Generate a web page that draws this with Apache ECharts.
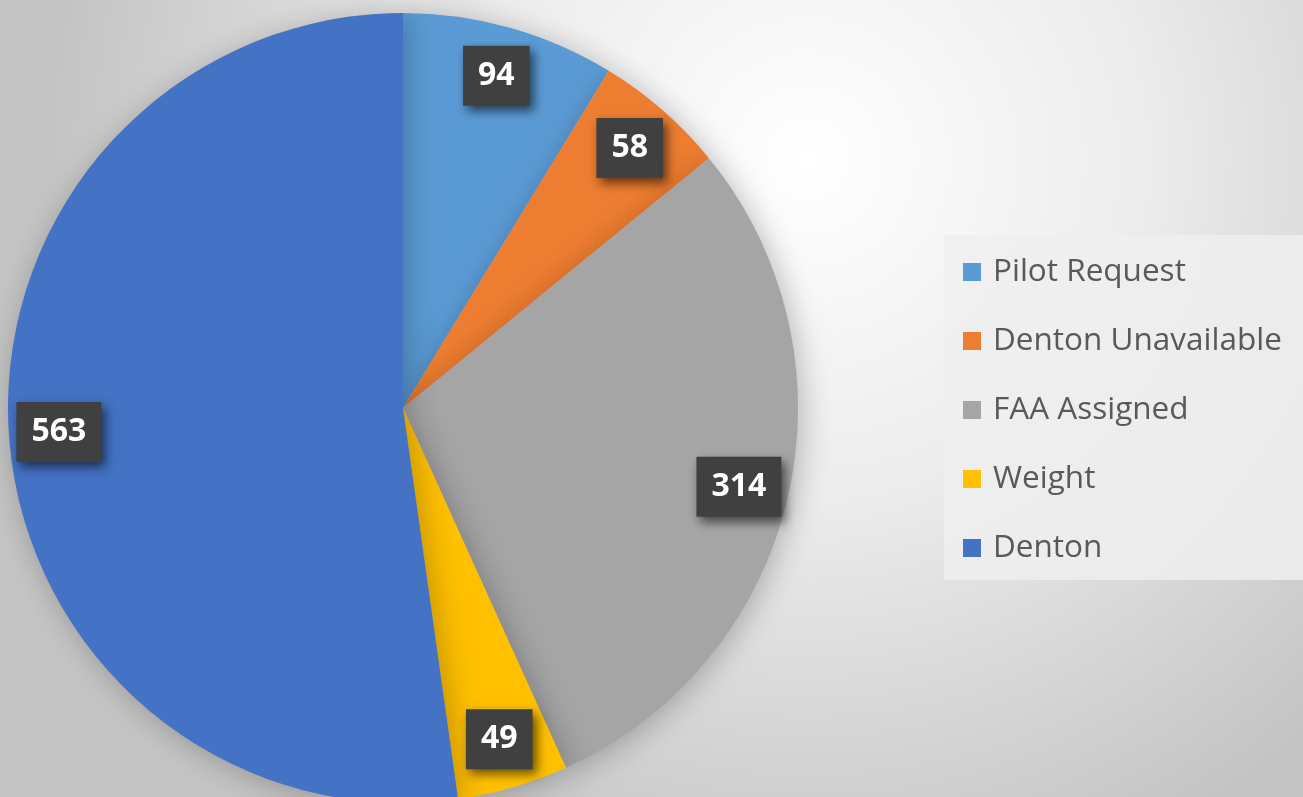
<!DOCTYPE html>
<html><head><meta charset="utf-8">
<script src="https://cdn.jsdelivr.net/npm/echarts@6/dist/echarts.min.js"></script>
<style>html,body{margin:0;padding:0;}#c{width:1303px;height:797px;}</style>
</head><body><div id="c"></div>
<script>
const categories = ['Pilot Request', 'Denton Unavailable', 'FAA Assigned', 'Weight', 'Denton'];
const values = [94, 58, 314, 49, 563];
const colors = ['#5B9BD5', '#ED7D31', '#A5A5A5', '#FFC000', '#4472C4'];

const data = categories.map((n, i) => ({ name: n, value: values[i], itemStyle: { color: colors[i] } }));
const chart = echarts.init(document.getElementById('c'));
chart.setOption({
  backgroundColor: {
    type: 'radial', x: 0.62, y: 0.2, r: 0.95,
    colorStops: [{ offset: 0, color: '#ffffff' }, { offset: 0.45, color: '#ececec' }, { offset: 1, color: '#c4c4c4' }]
  },
  animation: false,
  legend: {
    orient: 'vertical', left: 944, top: 235,
    padding: [21, 30, 16, 19],
    backgroundColor: 'rgba(238,238,238,0.85)',
    icon: 'rect', itemWidth: 18, itemHeight: 18, itemGap: 37,
    textStyle: { fontFamily: 'Open Sans', fontSize: 31.5, lineHeight: 32, color: '#595959', padding: [0, 0, 0, 7] },
    data: categories
  },
  series: [{
    type: 'pie', center: [403, 408], radius: [0, 395], startAngle: 90, clockwise: true,
    data: data, label: { show: false }, labelLine: { show: false }, silent: true,
    itemStyle: { shadowBlur: 30, shadowColor: 'rgba(0,0,0,0.25)', shadowOffsetX: 4, shadowOffsetY: 4 }
  }, {
    type: 'pie', center: [403, 408], radius: [289, 395], startAngle: 90, clockwise: true,
    data: data.map(d => ({ name: d.name, value: d.value })), silent: true,
    itemStyle: { color: 'rgba(0,0,0,0)' }, legendHoverLink: false,
    label: {
      show: true, position: 'inside', formatter: '{c}',
      fontFamily: 'Open Sans', fontWeight: 'bold', fontSize: 32, lineHeight: 32, color: '#ffffff',
      backgroundColor: '#404040', padding: [14, 15, 14, 15],
      shadowBlur: 10, shadowColor: 'rgba(0,0,0,0.6)', shadowOffsetX: 4, shadowOffsetY: 5
    },
    labelLine: { show: false }
  }]
});
</script></body></html>
